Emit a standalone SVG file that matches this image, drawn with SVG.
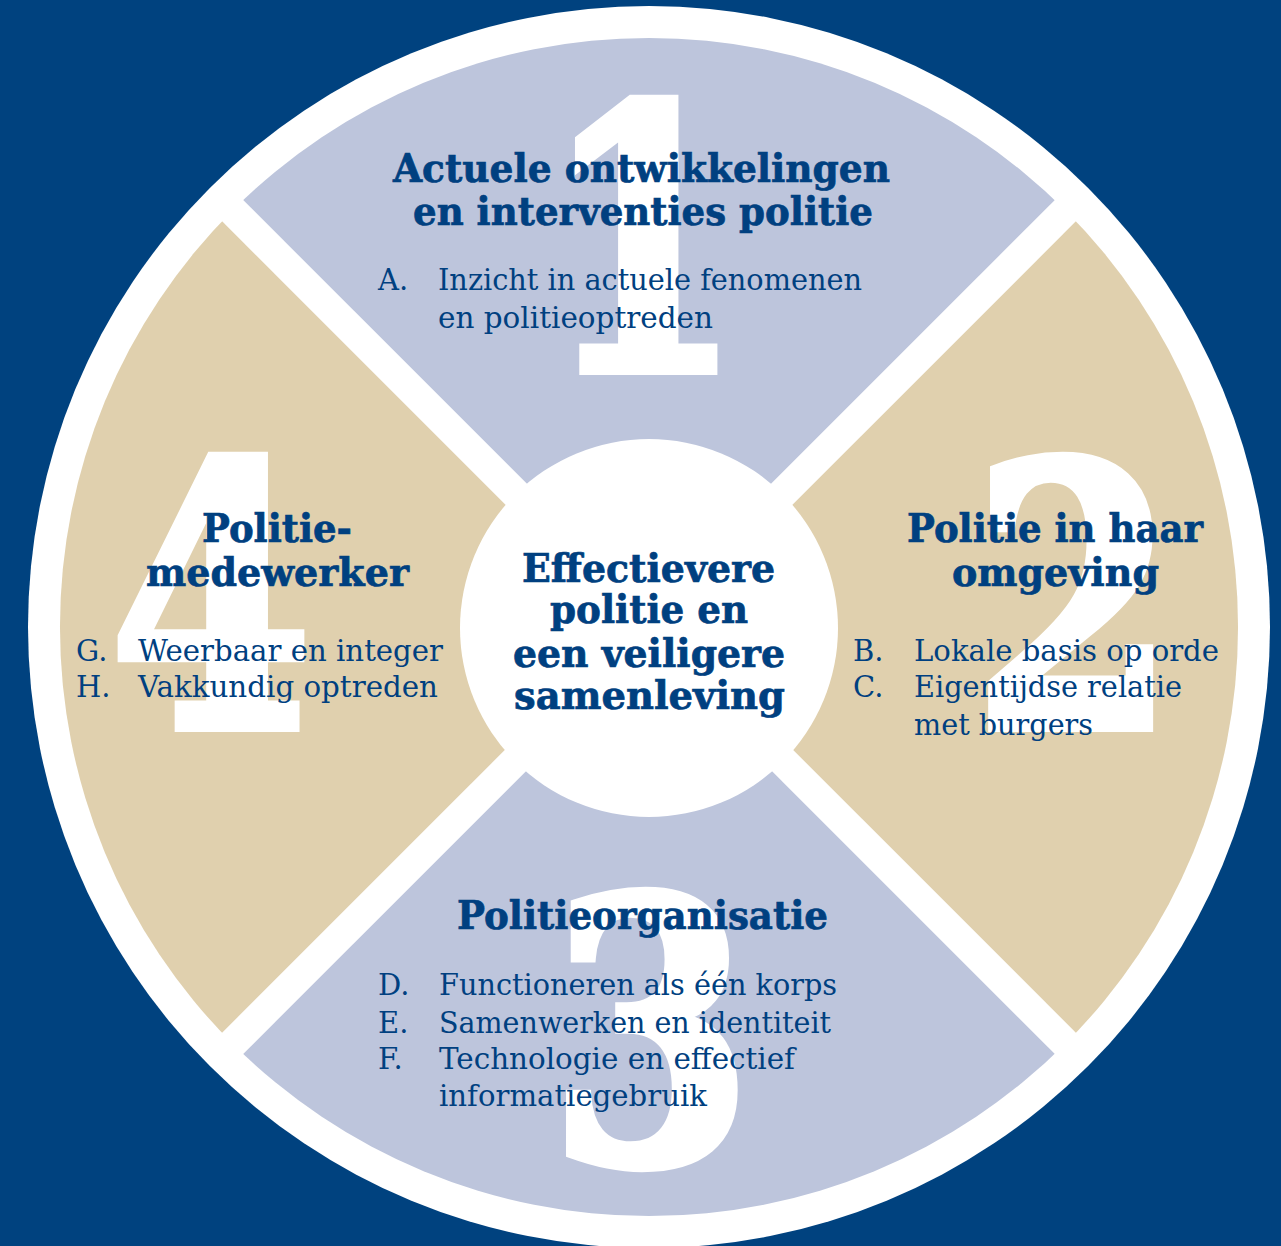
<svg xmlns="http://www.w3.org/2000/svg" width="1281" height="1246" viewBox="0 0 1281 1246">
<style>
.h{font-family:"DejaVu Serif","Liberation Serif",serif;font-weight:bold;font-size:40px;fill:#004080;stroke:#004080;stroke-width:0.7px;text-anchor:middle}
.b{font-family:"DejaVu Serif","Liberation Serif",serif;font-size:29px;fill:#004080}
.n{font-family:"DejaVu Serif","Liberation Serif",serif;font-weight:bold;font-size:364px;fill:#ffffff;stroke:#ffffff;stroke-width:10px;stroke-linejoin:miter;text-anchor:middle}
.blue{fill:#BDC5DC}
.tan{fill:#E0D0AE}
</style>
<rect width="1281" height="1246" fill="#00427F"/>
<circle cx="649" cy="627" r="621" fill="#ffffff"/>
<g id="sector-1">
<path class="blue" d="M649,627 L232.5,210.5 A589,589 0 0 1 1065.5,210.5 Z"/>
</g>
<g id="sector-2">
<path class="tan" d="M649,627 L1065.5,210.5 A589,589 0 0 1 1065.5,1043.5 Z"/>
</g>
<g id="sector-3">
<path class="blue" d="M649,627 L1065.5,1043.5 A589,589 0 0 1 232.5,1043.5 Z"/>
</g>
<g id="sector-4">
<path class="tan" d="M649,627 L232.5,1043.5 A589,589 0 0 1 232.5,210.5 Z"/>
</g>
<g id="separators" stroke="#ffffff" stroke-width="30">
<line x1="220" y1="198" x2="1078" y2="1056"/>
<line x1="1078" y1="198" x2="220" y2="1056"/>
</g>
<g id="numerals">
<text class="n" transform="translate(643,370) scale(0.78,1)">1</text>
<text class="n" transform="translate(1074,727) scale(0.8,1)">2</text>
<text class="n" transform="translate(651,1162) scale(0.8,1)">3</text>
<text class="n" transform="translate(211,727) scale(0.8,1)">4</text>
</g>
<g id="node-1">
<text class="h" x="641.5" y="182" textLength="497" lengthAdjust="spacingAndGlyphs">Actuele ontwikkelingen</text>
<text class="h" x="643" y="225" textLength="460" lengthAdjust="spacingAndGlyphs">en interventies politie</text>
<text class="b" x="378" y="290">A.</text>
<text class="b" x="438" y="290" textLength="424" lengthAdjust="spacingAndGlyphs">Inzicht in actuele fenomenen</text>
<text class="b" x="438" y="328" textLength="275" lengthAdjust="spacingAndGlyphs">en politieoptreden</text>
</g>
<g id="node-2">
<text class="h" x="1055" y="542" textLength="296" lengthAdjust="spacingAndGlyphs">Politie in haar</text>
<text class="h" x="1055.5" y="586" textLength="207" lengthAdjust="spacingAndGlyphs">omgeving</text>
<text class="b" x="853" y="661">B.</text>
<text class="b" x="914" y="661" textLength="305" lengthAdjust="spacingAndGlyphs">Lokale basis op orde</text>
<text class="b" x="853" y="697">C.</text>
<text class="b" x="914" y="697" textLength="268" lengthAdjust="spacingAndGlyphs">Eigentijdse relatie</text>
<text class="b" x="914" y="735" textLength="179" lengthAdjust="spacingAndGlyphs">met burgers</text>
</g>
<g id="node-3">
<text class="h" x="642.5" y="929" textLength="371" lengthAdjust="spacingAndGlyphs">Politieorganisatie</text>
<text class="b" x="378" y="995">D.</text>
<text class="b" x="439" y="995" textLength="398" lengthAdjust="spacingAndGlyphs">Functioneren als één korps</text>
<text class="b" x="378" y="1033">E.</text>
<text class="b" x="439" y="1033" textLength="392" lengthAdjust="spacingAndGlyphs">Samenwerken en identiteit</text>
<text class="b" x="378" y="1069">F.</text>
<text class="b" x="439" y="1069" textLength="356" lengthAdjust="spacingAndGlyphs">Technologie en effectief</text>
<text class="b" x="439" y="1106" textLength="268" lengthAdjust="spacingAndGlyphs">informatiegebruik</text>
</g>
<g id="node-4">
<text class="h" x="277" y="542" textLength="150" lengthAdjust="spacingAndGlyphs">Politie-</text>
<text class="h" x="277.5" y="586" textLength="263" lengthAdjust="spacingAndGlyphs">medewerker</text>
<text class="b" x="76" y="661">G.</text>
<text class="b" x="138" y="661" textLength="305" lengthAdjust="spacingAndGlyphs">Weerbaar en integer</text>
<text class="b" x="76" y="697">H.</text>
<text class="b" x="138" y="697" textLength="300" lengthAdjust="spacingAndGlyphs">Vakkundig optreden</text>
</g>
<g id="center">
<circle cx="649" cy="628" r="189" fill="#ffffff"/>
<text class="h" x="648.5" y="582" textLength="253" lengthAdjust="spacingAndGlyphs">Effectievere</text>
<text class="h" x="649" y="623" textLength="198" lengthAdjust="spacingAndGlyphs">politie en</text>
<text class="h" x="649" y="667" textLength="272" lengthAdjust="spacingAndGlyphs">een veiligere</text>
<text class="h" x="649.5" y="709" textLength="271" lengthAdjust="spacingAndGlyphs">samenleving</text>
</g>
</svg>
